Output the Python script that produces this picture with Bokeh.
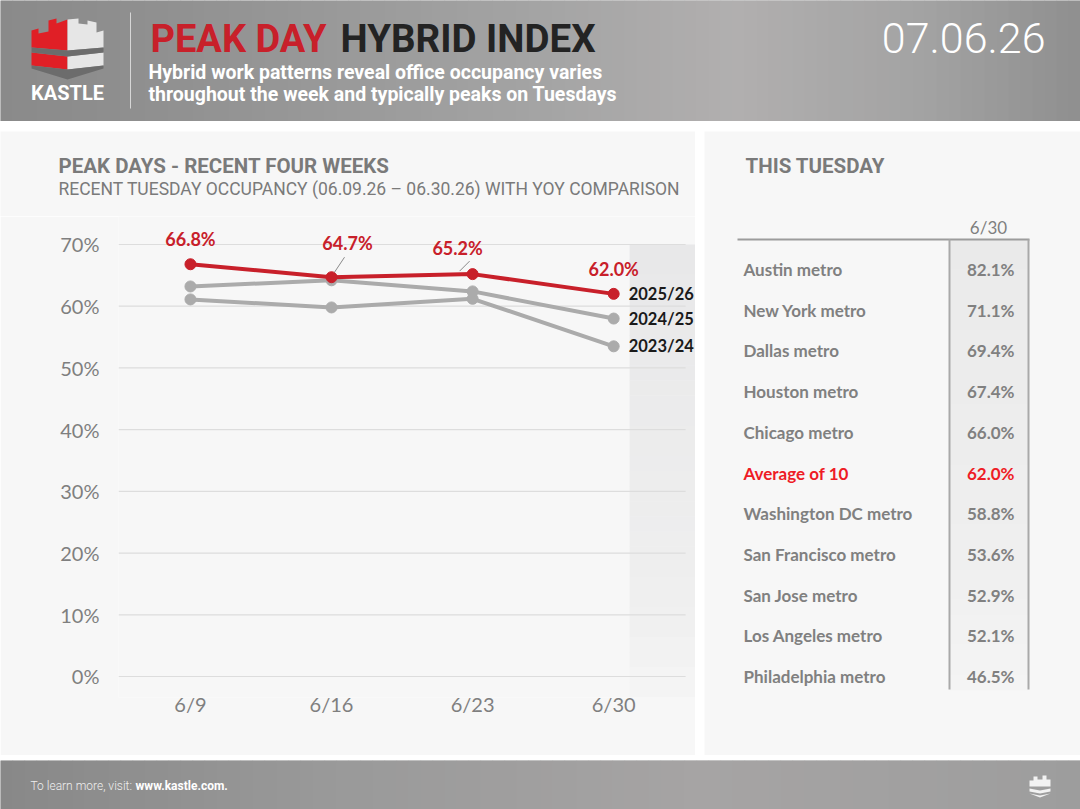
from bokeh.plotting import figure
from bokeh.layouts import column, row
from bokeh.models import Range1d, FixedTicker, Spacer, ColumnDataSource
from bokeh.embed import file_html
from bokeh.resources import INLINE
from bokeh.core.properties import value

# ---------------- data ----------------
weeks = ["6/9", "6/16", "6/23", "6/30"]
occ_2025_26 = [66.8, 64.7, 65.2, 62.0]
occ_2024_25 = [63.2, 64.2, 62.4, 58.0]
occ_2023_24 = [61.1, 59.8, 61.2, 53.5]
series_names = ["2025/26", "2024/25", "2023/24"]
y_ticks = [0, 10, 20, 30, 40, 50, 60, 70]

metros = ["Austin metro", "New York metro", "Dallas metro", "Houston metro",
          "Chicago metro", "Average of 10", "Washington DC metro",
          "San Francisco metro", "San Jose metro", "Los Angeles metro",
          "Philadelphia metro"]
metro_values = [82.1, 71.1, 69.4, 67.4, 66.0, 62.0, 58.8, 53.6, 52.9, 52.1, 46.5]
table_column = "6/30"

# ---------------- helpers ----------------
RED = "#c8202a"
GRAY_TXT = "#7a7a7a"
PANEL = "#f7f7f7"
LIGHT = value("'Roboto Light', 'Roboto Thin', 'Lato Light', Roboto")


def hex2rgb(h):
    return tuple(int(h[i:i + 2], 16) for i in (1, 3, 5))


def mix(stops, t):
    for (t0, c0), (t1, c1) in zip(stops, stops[1:]):
        if t <= t1:
            f = 0 if t1 == t0 else (t - t0) / (t1 - t0)
            a, b = hex2rgb(c0), hex2rgb(c1)
            return "#%02x%02x%02x" % tuple(round(a[i] + (b[i] - a[i]) * f) for i in range(3))
    return stops[-1][1]


def hgrad(p, x0, x1, y0, y1, stops, n, overlap):
    w = (x1 - x0) / n
    lefts = [x0 + i * w for i in range(n)]
    p.quad(left=lefts, right=[l + w + overlap for l in lefts], top=[y0] * n, bottom=[y1] * n,
           fill_color=[mix(stops, (i + 0.5) / n) for i in range(n)], line_color=None)


def vgrad(p, x0, x1, y0, y1, stops, n, overlap):
    h = (y1 - y0) / n
    tops = [y0 + i * h for i in range(n)]
    p.quad(left=[x0] * n, right=[x1] * n, top=tops, bottom=[t + h + overlap for t in tops],
           fill_color=[mix(stops, (i + 0.5) / n) for i in range(n)], line_color=None)


def canvas(w, h, xr, yr, bg):
    p = figure(width=w, height=h, x_range=xr, y_range=yr, output_backend="svg",
               toolbar_location=None, x_axis_type=None, y_axis_type=None, min_border=0)
    p.grid.visible = False
    p.outline_line_color = None
    p.background_fill_color = bg
    p.border_fill_color = bg
    p.frame_align = False
    return p


# ---------------- header ----------------
hdr = canvas(1080, 121, Range1d(0, 1080), Range1d(121, 0), "#999999")
hgrad(hdr, 0, 1080, 0, 121,
      [(0, "#8a8a8a"), (0.15, "#909090"), (0.5, "#a4a4a4"), (0.68, "#b1afaf"),
       (0.85, "#a3a3a3"), (1, "#8f8f8f")], 90, 0.6)

# logo
red_top = ([31, 38, 38, 48, 48, 56, 56, 67, 67, 31], [30, 28, 33, 31, 20, 18, 23, 19, 50, 47])
white_top = ([67, 78, 78, 87, 87, 96, 96, 103, 103, 67], [19, 18, 23, 24, 20, 22, 32, 30, 47, 50])
band = ([31, 67, 103, 103, 67, 31], [47, 50, 47, 52, 56, 52])
red_bot = ([31, 67, 67, 31], [52, 56, 69, 65])
white_bot = ([67, 103, 103, 67], [56, 52, 65, 69])
base = ([31, 67, 103, 103, 67, 31], [65, 69, 65, 68, 79, 68])
hdr.patches([red_top[0], red_bot[0]], [red_top[1], red_bot[1]], fill_color="#e01f26", line_color=None)
hdr.patches([white_top[0], white_bot[0]], [white_top[1], white_bot[1]], fill_color="#e6e6e6", line_color=None)
hdr.patches([band[0], base[0]], [band[1], base[1]], fill_color="#6c6c6c", line_color=None)
hdr.text(x=[67], y=[92], text=["KASTLE"], text_align="center", text_baseline="middle",
         text_font=value("Roboto"), text_font_style="bold", text_font_size="20px", text_color="white")
hdr.segment(x0=[130], y0=[12], x1=[130], y1=[108], line_color="#d6d6d6", line_width=1)

hdr.text(x=[150], y=[38], text=["PEAK DAY"], text_baseline="middle", text_font=value("Roboto"),
         text_font_style="bold", text_font_size="38px", text_color=RED)
hdr.text(x=[340], y=[38], text=["HYBRID INDEX"], text_baseline="middle", text_font=value("Roboto"),
         text_font_style="bold", text_font_size="38.5px", text_color="#232323")
hdr.text(x=[148, 148], y=[72, 94],
         text=["Hybrid work patterns reveal office occupancy varies",
               "throughout the week and typically peaks on Tuesdays"],
         text_baseline="middle", text_font=value("Roboto"), text_font_style="bold",
         text_font_size="19.5px", text_color="white")
hdr.text(x=[1045], y=[37], text=["07.06.26"], text_align="right", text_baseline="middle",
         text_font=LIGHT, text_font_size="43px", text_color="white")

# ---------------- left panel: titles ----------------
ttl = canvas(695, 85, Range1d(0, 695), Range1d(216, 131), PANEL)
ttl.text(x=[58], y=[165], text=["PEAK DAYS - RECENT FOUR WEEKS"], text_baseline="middle",
         text_font=value("Roboto"), text_font_style="bold", text_font_size="20.5px", text_color=GRAY_TXT)
ttl.text(x=[58], y=[188], text=["RECENT TUESDAY OCCUPANCY (06.09.26 \u2013 06.30.26) WITH YOY COMPARISON"],
         text_baseline="middle", text_font=value("Roboto"), text_font_size="17.5px",
         text_color=GRAY_TXT)

# ---------------- left panel: chart ----------------
xi = list(range(len(weeks)))
chart = figure(width=695, height=539, x_range=Range1d(-0.51, 3.58), y_range=Range1d(-3.403, 74.537),
               output_backend="svg", toolbar_location=None,
               min_border_left=118, min_border_right=0, min_border_top=0, min_border_bottom=58)
chart.background_fill_color = PANEL
chart.border_fill_color = PANEL
chart.outline_line_color = None
chart.grid.visible = False
chart.frame_align = False

# highlighted latest week
vgrad(chart, 3.113, 3.58, 70, -3.403, [(0, "#e8e8e9"), (0.8, "#efefef"), (1, "#f5f5f5")], 30, -0.05)

# horizontal grid lines at tick values
chart.segment(x0=[-0.51] * len(y_ticks), x1=[3.51] * len(y_ticks), y0=y_ticks, y1=y_ticks,
              line_color="#dddddd", line_width=1.2)

for ax in (chart.xaxis[0], chart.yaxis[0]):
    ax.axis_line_color = None
    ax.major_tick_line_color = None
    ax.minor_tick_line_color = None
    ax.major_tick_out = 0
    ax.major_tick_in = 0
    ax.minor_tick_out = 0
    ax.major_label_text_color = "#7f7f7f"
    ax.major_label_text_font = "Lato"
    ax.major_label_text_font_size = "20px"
chart.yaxis.ticker = FixedTicker(ticks=y_ticks)
chart.yaxis.major_label_overrides = {t: f"{t}%" for t in y_ticks}
chart.yaxis.major_label_standoff = 19
chart.xaxis.ticker = FixedTicker(ticks=xi)
chart.xaxis.major_label_overrides = {i: w for i, w in zip(xi, weeks)}
chart.xaxis.major_label_standoff = -6

for vals, col in ((occ_2023_24, "#ababab"), (occ_2024_25, "#ababab"), (occ_2025_26, RED)):
    chart.line(xi, vals, line_color=col, line_width=4)
    chart.scatter(xi, vals, size=11, fill_color=col, line_color=col)

# leader lines for two labels (offsets in px converted to data units)
pxx, pxy = 577 / 4.09, 432 / 70
chart.segment(x0=[1 + 3 / pxx, 2 - 13 / pxx], y0=[occ_2025_26[1] + 5 / pxy, occ_2025_26[2] + 3 / pxy],
              x1=[1 + 13 / pxx, 2 - 3 / pxx], y1=[occ_2025_26[1] + 20 / pxy, occ_2025_26[2] + 13 / pxy],
              line_color="#8a8a8a", line_width=1)

lab = ColumnDataSource(dict(x=xi, y=occ_2025_26, t=[f"{v:.1f}%" for v in occ_2025_26],
                            dx=[0, 16, -15, 0], dy=[-25, -34, -26, -25]))
chart.text(x="x", y="y", text="t", x_offset="dx", y_offset="dy", source=lab, text_align="center",
           text_baseline="middle", text_font=value("Lato"), text_font_style="bold",
           text_font_size="18px", text_color=RED)

last = [occ_2025_26[-1], occ_2024_25[-1], occ_2023_24[-1]]
chart.text(x=[3] * 3, y=last, text=series_names, x_offset=15, text_align="left", text_baseline="middle",
           text_font=value("Lato"), text_font_style="bold", text_font_size="16.5px", text_color="#1a1a1a")

left_panel = column(ttl, chart, spacing=0)

# ---------------- right panel: table ----------------
ROW0, ROWH = 269, 40.7


def ty(py):
    return (py - ROW0) / ROWH


tbl = canvas(376, 624, Range1d(704, 1080), Range1d(ty(755), ty(131)), PANEL)
tbl.text(x=[745], y=[ty(165)], text=["THIS TUESDAY"], text_baseline="middle",
         text_font=value("Roboto"), text_font_style="bold", text_font_size="20.5px", text_color=GRAY_TXT)
vgrad(tbl, 949, 1028, ty(239), ty(689), [(0, "#eaeaea"), (0.7, "#efefef"), (1, "#f4f4f4")], 30, 0.02)
tbl.segment(x0=[737], x1=[1029], y0=[ty(239)], y1=[ty(239)], line_color="#9c9c9c", line_width=2)
tbl.segment(x0=[949, 1028], x1=[949, 1028], y0=[ty(239)] * 2, y1=[ty(689)] * 2,
            line_color="#a9a9a9", line_width=2)
tbl.text(x=[988], y=[ty(227)], text=[table_column], text_align="center", text_baseline="middle",
         text_font=value("Lato"), text_font_size="17px", text_color="#7f7f7f")

rows = list(range(len(metros)))
colors = ["#ee1c25" if m.startswith("Average") else "#808080" for m in metros]
tsrc = ColumnDataSource(dict(y=rows, name=metros, val=[f"{v:.1f}%" for v in metro_values], c=colors))
tbl.text(x=743, y="y", text="name", source=tsrc, text_align="left", text_baseline="middle",
         text_font=value("Lato"), text_font_style="bold", text_font_size="17px", text_color="c")
tbl.text(x=1014, y="y", text="val", source=tsrc, text_align="right", text_baseline="middle",
         text_font=value("Lato"), text_font_style="bold", text_font_size="17px", text_color="c")

# ---------------- footer ----------------
ftr = canvas(1080, 49, Range1d(0, 1080), Range1d(809, 760), "#999999")
hgrad(ftr, 0, 1080, 760, 809, [(0, "#888888"), (0.3, "#999999"), (0.65, "#a6a4a4"), (1, "#9d9d9d")], 90, 0.6)
ftr.text(x=[30], y=[785], text=["To learn more, visit:"], text_baseline="middle",
         text_font=LIGHT, text_font_size="12px", text_color="#eeeeee")
ftr.text(x=[135], y=[785], text=["www.kastle.com."], text_baseline="middle",
         text_font=value("Roboto"), text_font_style="bold", text_font_size="12px", text_color="white")
icon_xs = [[1029, 1033, 1033, 1037, 1037, 1042, 1042, 1046, 1046, 1050, 1050, 1029],
           [1029, 1039.5, 1050, 1050, 1039.5, 1029],
           [1029, 1039.5, 1050, 1039.5]]
icon_ys = [[780, 780, 776, 776, 779, 779, 775, 775, 779, 779, 786, 786],
           [788, 790, 788, 791, 793, 791],
           [793, 795, 793, 797]]
ftr.patches(icon_xs, icon_ys, fill_color="#f2f2f2", line_color=None)

# ---------------- layout ----------------
page = column(
    hdr,
    Spacer(width=1080, height=10),
    row(left_panel, Spacer(width=9, height=624), tbl, spacing=0),
    Spacer(width=1080, height=5),
    ftr,
    spacing=0,
)

open("out.html", "w").write(file_html(page, INLINE))
